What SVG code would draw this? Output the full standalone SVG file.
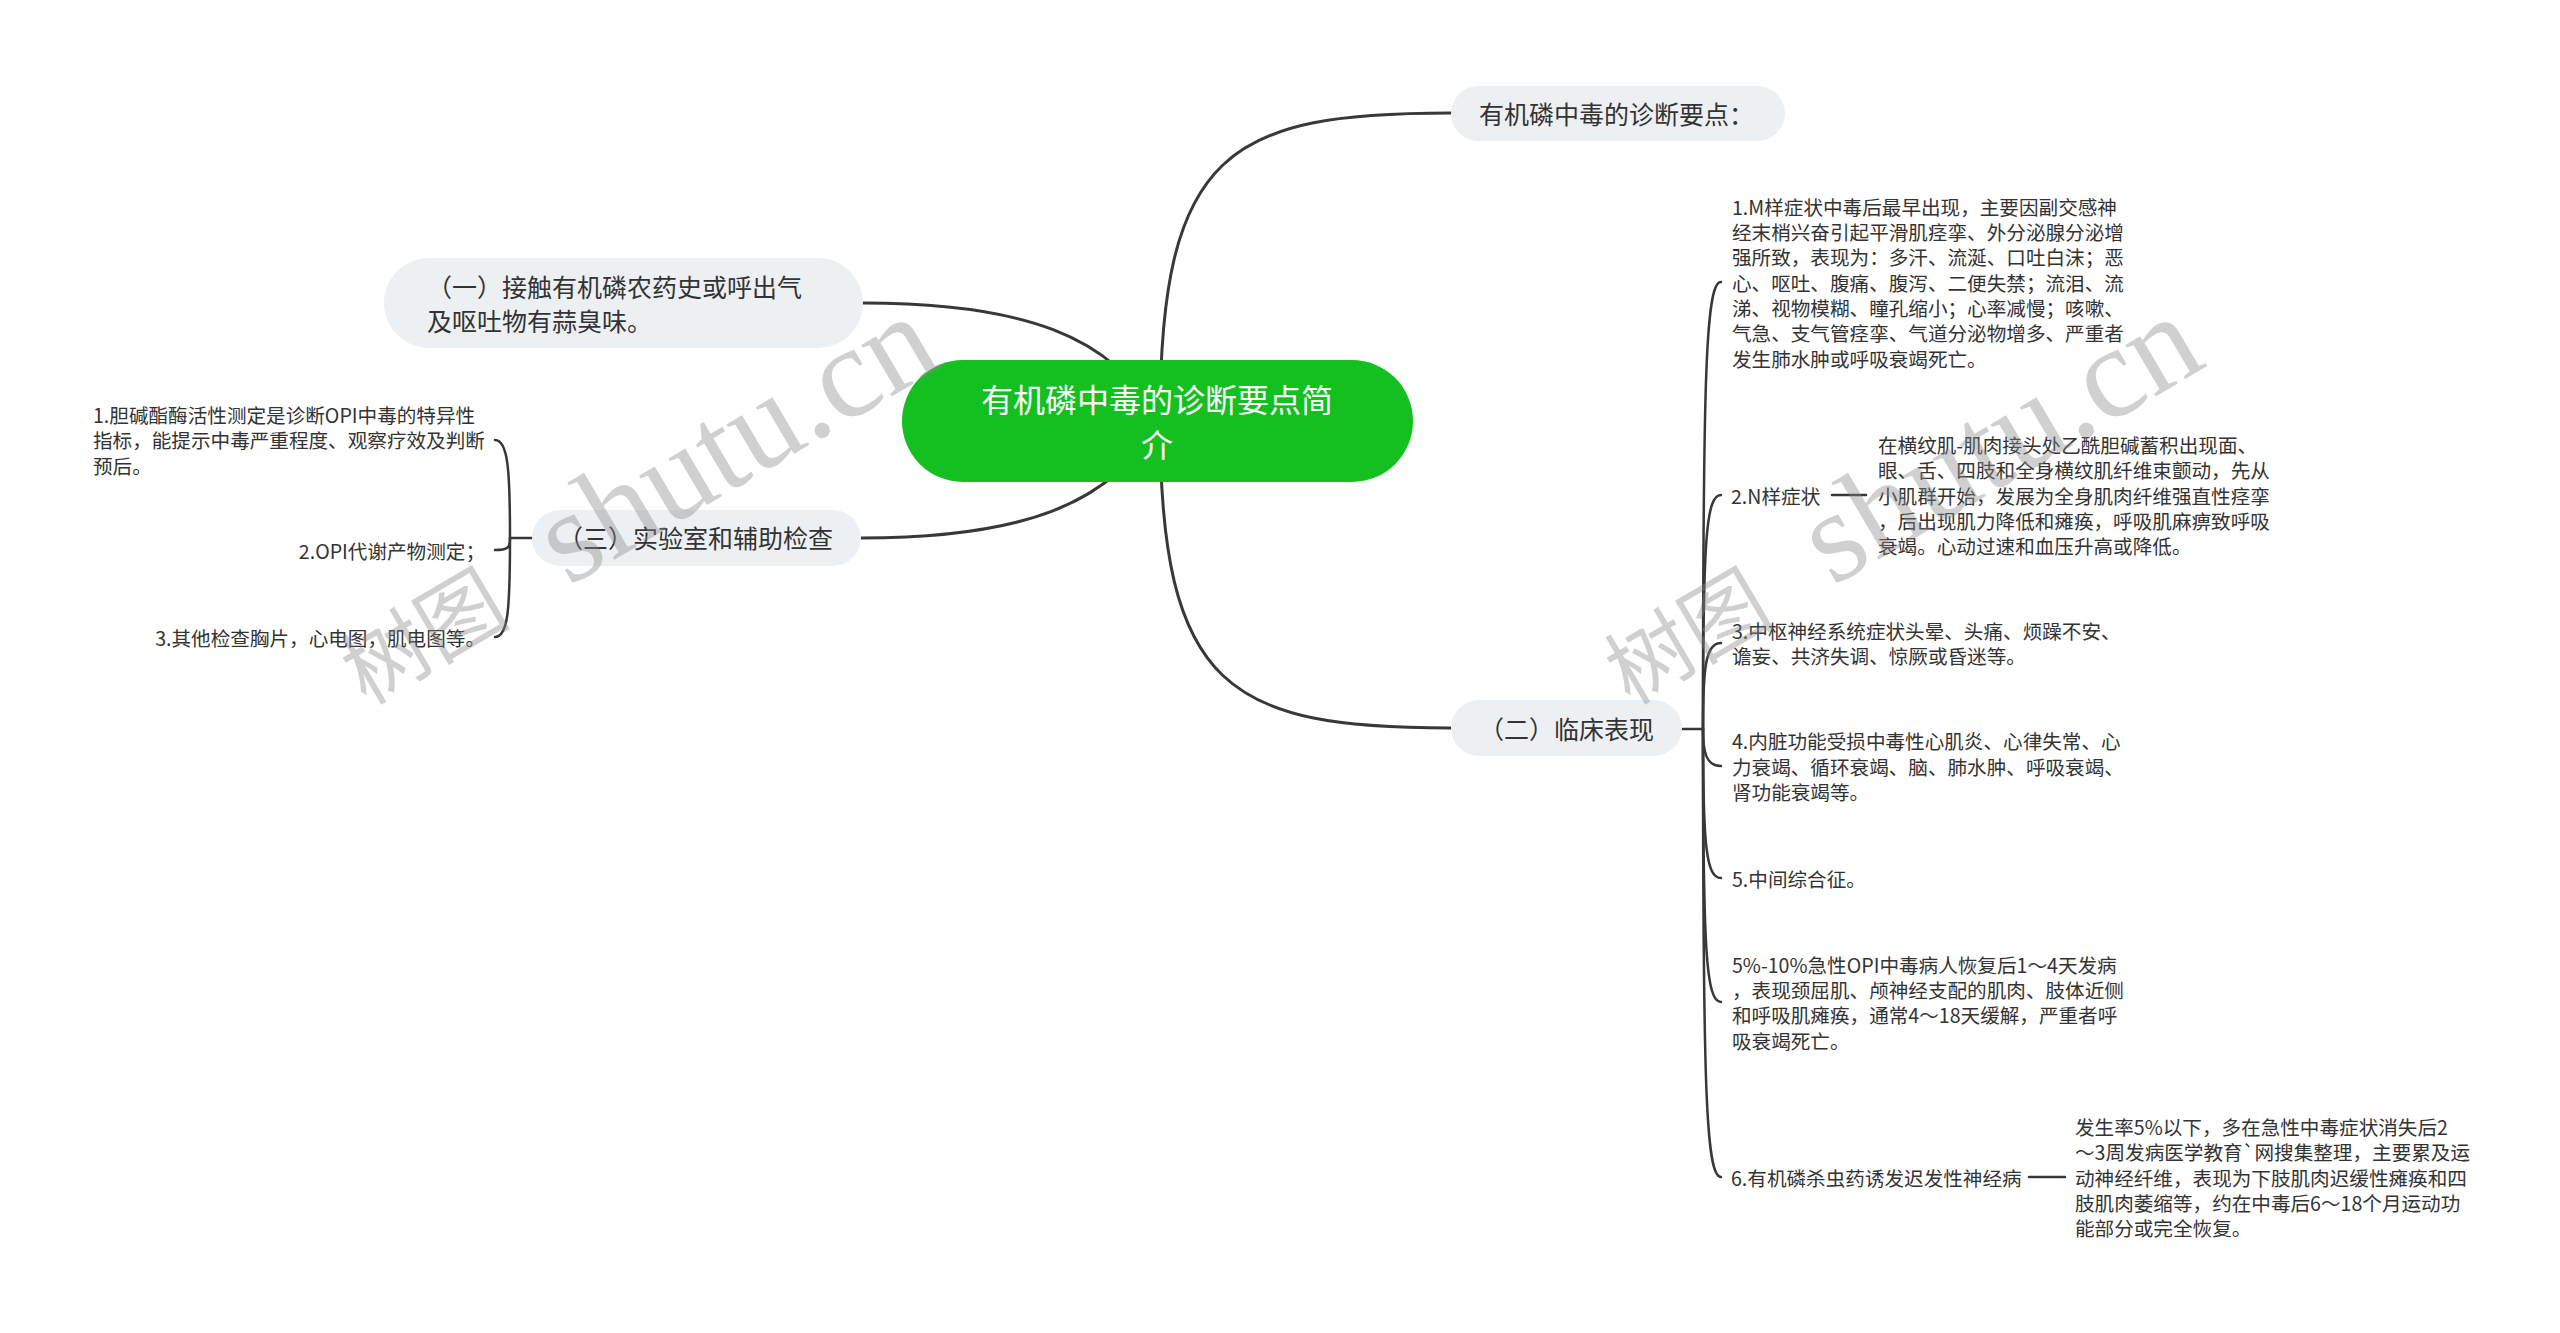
<svg xmlns="http://www.w3.org/2000/svg" width="2560" height="1333" viewBox="0 0 2560 1333">
<style>
  text { font-family: "Noto Sans CJK SC", "Noto Sans", sans-serif; fill: #333; dominant-baseline: central; }
  .pill { fill: #EDF0F3; }
  .pt { font-size: 25px; }
  .lt { font-size: 19.6px; }
  .ct { font-size: 32px; fill: #fff; text-anchor: middle; }
  .conn path { fill: none; stroke: #383838; stroke-width: 3; stroke-linecap: round; }
  .conn .thin { stroke-width: 2.5; }
  .wm text { fill: #8a8a8a; fill-opacity: 0.4; dominant-baseline: alphabetic; }
</style>
<rect width="2560" height="1333" fill="#fff"/>

<g class="conn" id="connectors">
  <path d="M1160 420 C1160 150 1230 113 1451 113"/>
  <path d="M1160 420 C1160 690 1230 728 1451 728"/>
  <path d="M1157 420 C1115 335 1020 303 863 303"/>
  <path d="M1157 420 C1115 505 1020 538 861 538"/>
  <!-- left bracket -->
  <path class="thin" d="M532 538 L510 538"/>
  <path class="thin" d="M510 538 C510 470 508 440 495 440"/>
  <path class="thin" d="M510 538 C510 548 508 550 495 550"/>
  <path class="thin" d="M510 538 C510 610 508 637 495 637"/>
  <!-- right bracket -->
  <path class="thin" d="M1682 729 L1703 729"/>
  <path class="thin" d="M1703 729 C1703 370 1706 282 1721 282"/>
  <path class="thin" d="M1703 729 C1703 540 1706 495 1721 495"/>
  <path class="thin" d="M1703 729 C1703 665 1706 643 1721 643"/>
  <path class="thin" d="M1703 729 C1703 752 1706 766 1721 766"/>
  <path class="thin" d="M1703 729 C1703 845 1706 878 1721 878"/>
  <path class="thin" d="M1703 729 C1703 950 1706 1002 1721 1002"/>
  <path class="thin" d="M1703 729 C1703 1090 1706 1177 1721 1177"/>
  <path class="thin" d="M1832 495 L1866 495"/>
  <path class="thin" d="M2029 1177 L2065 1177"/>
</g>

<g id="center">
  <rect x="902" y="360" width="511" height="122" rx="61" fill="#13C01F"/>
  <text class="ct" x="1157" y="398">有机磷中毒的诊断要点简</text>
  <text class="ct" x="1157" y="443">介</text>
</g>

<g id="n-diag">
  <rect class="pill" x="1451" y="86" width="334" height="55" rx="27.5"/>
  <text class="pt" x="1479" y="113">有机磷中毒的诊断要点：</text>
</g>

<g id="n-1">
  <rect class="pill" x="384" y="258" width="479" height="90" rx="45"/>
  <text class="pt" x="427" y="286">（一）接触有机磷农药史或呼出气</text>
  <text class="pt" x="427" y="320">及呕吐物有蒜臭味。</text>
</g>

<g id="n-3">
  <rect class="pill" x="532" y="510" width="329" height="56" rx="28"/>
  <text class="pt" x="558" y="537">（三）实验室和辅助检查</text>
</g>

<g id="n-2">
  <rect class="pill" x="1451" y="700" width="231" height="56" rx="28"/>
  <text class="pt" x="1479" y="728">（二）临床表现</text>
</g>

<g id="n-3-1">
  <text class="lt" x="93" y="414">1.胆碱酯酶活性测定是诊断OPI中毒的特异性</text>
  <text class="lt" x="93" y="439.5">指标，能提示中毒严重程度、观察疗效及判断</text>
  <text class="lt" x="93" y="465">预后。</text>
</g>
<g id="n-3-2">
  <text class="lt" x="485" y="550" text-anchor="end">2.OPI代谢产物测定；</text>
</g>
<g id="n-3-3">
  <text class="lt" x="485" y="637" text-anchor="end">3.其他检查胸片，心电图，肌电图等。</text>
</g>

<g id="n-2-1">
  <text class="lt" x="1732" y="206">1.M样症状中毒后最早出现，主要因副交感神</text>
  <text class="lt" x="1732" y="231.4">经末梢兴奋引起平滑肌痉挛、外分泌腺分泌增</text>
  <text class="lt" x="1732" y="256.7">强所致，表现为：多汗、流涎、口吐白沫；恶</text>
  <text class="lt" x="1732" y="282">心、呕吐、腹痛、腹泻、二便失禁；流泪、流</text>
  <text class="lt" x="1732" y="307.3">涕、视物模糊、瞳孔缩小；心率减慢；咳嗽、</text>
  <text class="lt" x="1732" y="332.6">气急、支气管痉挛、气道分泌物增多、严重者</text>
  <text class="lt" x="1732" y="358">发生肺水肿或呼吸衰竭死亡。</text>
</g>
<g id="n-2-2">
  <text class="lt" x="1731" y="495">2.N样症状</text>
</g>
<g id="n-2-2-1">
  <text class="lt" x="1878" y="444.4">在横纹肌-肌肉接头处乙酰胆碱蓄积出现面、</text>
  <text class="lt" x="1878" y="469.7">眼、舌、四肢和全身横纹肌纤维束颤动，先从</text>
  <text class="lt" x="1878" y="495">小肌群开始，发展为全身肌肉纤维强直性痉挛</text>
  <text class="lt" x="1878" y="520.3">，后出现肌力降低和瘫痪，呼吸肌麻痹致呼吸</text>
  <text class="lt" x="1878" y="545.6">衰竭。心动过速和血压升高或降低。</text>
</g>
<g id="n-2-3">
  <text class="lt" x="1732" y="630.4">3.中枢神经系统症状头晕、头痛、烦躁不安、</text>
  <text class="lt" x="1732" y="655.6">谵妄、共济失调、惊厥或昏迷等。</text>
</g>
<g id="n-2-4">
  <text class="lt" x="1732" y="740.7">4.内脏功能受损中毒性心肌炎、心律失常、心</text>
  <text class="lt" x="1732" y="766">力衰竭、循环衰竭、脑、肺水肿、呼吸衰竭、</text>
  <text class="lt" x="1732" y="791.3">肾功能衰竭等。</text>
</g>
<g id="n-2-5">
  <text class="lt" x="1732" y="878">5.中间综合征。</text>
</g>
<g id="n-2-5b">
  <text class="lt" x="1732" y="964">5%-10%急性OPI中毒病人恢复后1～4天发病</text>
  <text class="lt" x="1732" y="989.3">，表现颈屈肌、颅神经支配的肌肉、肢体近侧</text>
  <text class="lt" x="1732" y="1014.7">和呼吸肌瘫痪，通常4～18天缓解，严重者呼</text>
  <text class="lt" x="1732" y="1040">吸衰竭死亡。</text>
</g>
<g id="n-2-6">
  <text class="lt" x="1731" y="1177">6.有机磷杀虫药诱发迟发性神经病</text>
</g>
<g id="n-2-6-1">
  <text class="lt" x="2075" y="1126.4">发生率5%以下，多在急性中毒症状消失后2</text>
  <text class="lt" x="2075" y="1151.7">～3周发病医学教育`网搜集整理，主要累及运</text>
  <text class="lt" x="2075" y="1177">动神经纤维，表现为下肢肌肉迟缓性瘫痪和四</text>
  <text class="lt" x="2075" y="1202.3">肢肌肉萎缩等，约在中毒后6～18个月运动功</text>
  <text class="lt" x="2075" y="1227.6">能部分或完全恢复。</text>
</g>

<g class="wm">
  <text transform="translate(366,706) rotate(-30.5)"><tspan font-size="85">树图</tspan><tspan dx="65" font-size="130" font-family="Liberation Serif, serif">shutu.cn</tspan></text>
  <text transform="translate(1630,706) rotate(-30.5)"><tspan font-size="85">树图</tspan><tspan dx="65" font-size="130" font-family="Liberation Serif, serif">shutu.cn</tspan></text>
</g>
</svg>
